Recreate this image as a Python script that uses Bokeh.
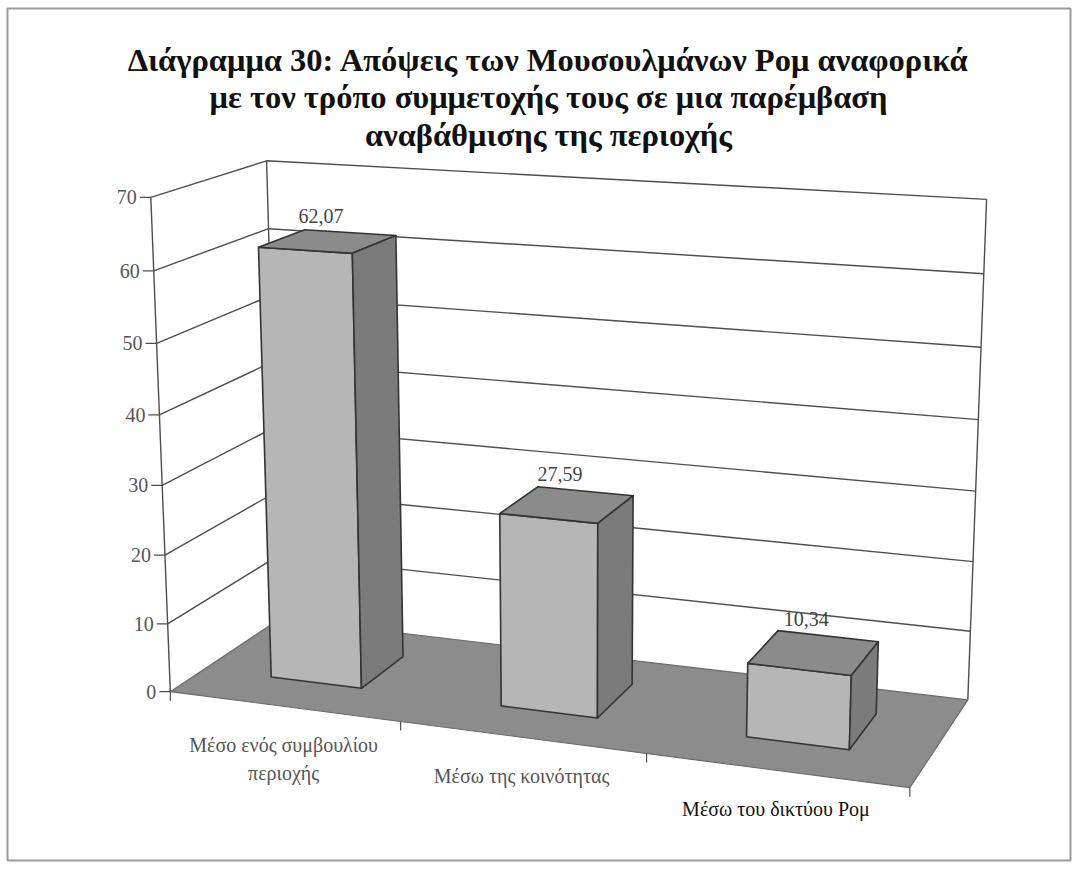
import numpy as np
from bokeh.plotting import figure
from bokeh.models import ColumnDataSource, Range1d
from bokeh.core.properties import value
from bokeh.embed import file_html
from bokeh.resources import INLINE

# ---------------- data ----------------
title_lines = [
    "Διάγραμμα 30: Απόψεις των Μουσουλμάνων Ρομ αναφορικά",
    "με τον τρόπο συμμετοχής τους σε μια παρέμβαση",
    "αναβάθμισης της περιοχής",
]
categories = ["Μέσο ενός συμβουλίου\nπεριοχής", "Μέσω της κοινότητας", "Μέσω του δικτύου Ρομ"]
values = [62.07, 27.59, 10.34]
value_labels = ["62,07", "27,59", "10,34"]
y_ticks = [0, 10, 20, 30, 40, 50, 60, 70]
y_max = 70

# ---------------- 3D camera (perspective) ----------------
N_CAT = len(categories)
CAL_WORLD = np.array([
    [0, 0, 0], [0, 70, 0], [3, 0, 0], [0, 0, 1], [0, 70, 1], [3, 70, 1], [3, 0, 1],
    [1, 0, 0], [2, 0, 0], [0, 60, 0], [0, 60, 1], [3, 60, 1], [3, 10, 1], [0, 10, 0],
], dtype=float)
CAL_SCREEN = np.array([
    [172, 689], [152, 197], [910, 788], [280, 620], [267, 160], [987, 199], [968, 698],
    [401, 720], [647, 753], [153, 268], [269, 226], [985, 272], [971, 627], [168, 621],
], dtype=float)
C0 = np.array([560.0, 470.0]); SC = 400.0
WS = np.array([3.0, 70.0, 1.0])


def _proj_n(Pm, W):
    H = np.c_[W, np.ones(len(W))] @ Pm.T
    return H[:, :2] / H[:, 2:3]


def fit_camera(world, screen):
    W = world / WS
    S = (screen - C0) / SC
    rows = []
    for (x, y, z), (u, v) in zip(W, S):
        X = [x, y, z, 1.0]
        rows.append(X + [0, 0, 0, 0] + [-u * c for c in X])
        rows.append([0, 0, 0, 0] + X + [-v * c for c in X])
    _, _, vt = np.linalg.svd(np.array(rows))
    pv = vt[-1]
    for _ in range(60):
        r = (_proj_n(pv.reshape(3, 4), W) - S).ravel()
        J = np.zeros((r.size, 12))
        for k in range(12):
            d = np.zeros(12); d[k] = 1e-7
            J[:, k] = ((_proj_n((pv + d).reshape(3, 4), W) - S).ravel() - r) / 1e-7
        pv = pv + np.linalg.lstsq(J, -r, rcond=None)[0]
        pv = pv / np.linalg.norm(pv)
    return pv.reshape(3, 4)


P = fit_camera(CAL_WORLD, CAL_SCREEN)


def proj(x, y, z):
    h = P @ np.array([x / WS[0], y / WS[1], z / WS[2], 1.0])
    return h[0] / h[2] * SC + C0[0], h[1] / h[2] * SC + C0[1]


def poly(pts):
    xy = [proj(*p) for p in pts]
    return [a for a, _ in xy], [b for _, b in xy]


# ---------------- figure ----------------
W_FIG, H_FIG = 1072, 863
X0, Y0 = 1, -1
p = figure(width=W_FIG, height=H_FIG, output_backend="svg", toolbar_location=None,
           x_range=Range1d(X0, X0 + W_FIG), y_range=Range1d(Y0 + H_FIG, Y0),
           min_border=0)
p.axis.visible = False
p.xgrid.visible = False
p.ygrid.visible = False
p.outline_line_color = None
p.background_fill_color = "white"
p.border_fill_color = "white"

# page border of the chart area
p.quad(left=[8], right=[1071], top=[7], bottom=[859], fill_color=None,
       line_color="#9a9a9a", line_width=2)

SERIF = value("'Liberation Serif', 'DejaVu Serif Condensed', 'DejaVu Serif', serif")
LINE_C = "#4e4e4e"

gx, gy = [], []
for t in y_ticks[1:]:
    xs, ys = poly([(0, t, 0), (0, t, 1), (N_CAT, t, 1)])
    gx.append(xs); gy.append(ys)
for pts in ([(0, 0, 1), (0, y_max, 1)], [(N_CAT, 0, 1), (N_CAT, y_max, 1)],
            [(0, 0, 0), (0, y_max, 0)]):
    xs, ys = poly(pts)
    gx.append(xs); gy.append(ys)
p.multi_line(gx, gy, line_color=LINE_C, line_width=1.4)

fx, fy = poly([(0, 0, 0), (N_CAT, 0, 0), (N_CAT, 0, 1), (0, 0, 1)])
p.patch(fx, fy, fill_color="#8c8c8c", line_color="#6a6a6a", line_width=1.2)

tx, ty, lx, ly, lt = [], [], [], [], []
for t in y_ticks:
    x0, y0 = proj(0, t, 0)
    tx.append([x0 - 11, x0]); ty.append([y0, y0])
    lx.append(x0 - 14); ly.append(y0); lt.append(str(t))
p.multi_line(tx, ty, line_color=LINE_C, line_width=1.2)
p.text(x=lx, y=ly, text=lt, text_font=SERIF, text_font_size="20px",
       text_color="#555555", text_align="right", text_baseline="middle")

cx, cy = [], []
for i in range(N_CAT + 1):
    x0, y0 = proj(i, 0, 0)
    cx.append([x0, x0]); cy.append([y0, y0 + 9])
p.multi_line(cx, cy, line_color=LINE_C, line_width=1.2)

BX0, BX1 = 0.3, 0.7
BZ0, BZ1 = 0.3, 0.72
bx, by, bc = [], [], []
for i, v in enumerate(values):
    a, b = i + BX0, i + BX1
    faces = [
        ([(a, 0, BZ0), (b, 0, BZ0), (b, v, BZ0), (a, v, BZ0)], "#b6b6b6"),
        ([(a, v, BZ0), (b, v, BZ0), (b, v, BZ1), (a, v, BZ1)], "#8b8b8b"),
        ([(b, 0, BZ0), (b, 0, BZ1), (b, v, BZ1), (b, v, BZ0)], "#7b7b7b"),
    ]
    for pts, col in faces:
        xs, ys = poly(pts)
        bx.append(xs); by.append(ys); bc.append(col)
p.patches(xs="xs", ys="ys", fill_color="fc",
          source=ColumnDataSource(dict(xs=bx, ys=by, fc=bc)),
          line_color="#333333", line_width=1.6, line_join="round")

vx, vy = [], []
for i, v in enumerate(values):
    xc, _ = proj(i + 0.47, v, (BZ0 + BZ1) / 2)
    _, yb = proj(i + 0.5, v, BZ1)
    vx.append(xc); vy.append(yb - 17)
p.text(x=vx, y=vy, text=value_labels, text_font=SERIF, text_font_size="20px",
       text_color="#444444", text_align="center", text_baseline="middle")

kx, ky, kt, kc = [], [], [], []
cat_colors = ["#555555", "#555555", "#111111"]
for i, name in enumerate(categories):
    x0, y0 = proj(i + 0.5, 0, 0)
    for j, line in enumerate(name.split("\n")):
        kx.append(x0); ky.append(y0 + 39 + 28 * j); kt.append(line); kc.append(cat_colors[i])
p.text(x="x", y="y", text="t", text_color="c",
       source=ColumnDataSource(dict(x=kx, y=ky, t=kt, c=kc)),
       text_font=SERIF, text_font_size="20px", text_align="center", text_baseline="middle")

title_y = [58, 95.5, 133]
p.text(x=[549] * len(title_lines), y=title_y, text=title_lines, text_font=SERIF,
       text_font_size="32.5px", text_font_style="bold", text_color="#111111",
       text_align="center", text_baseline="alphabetic")

open("out.html", "w").write(file_html(p, INLINE))
